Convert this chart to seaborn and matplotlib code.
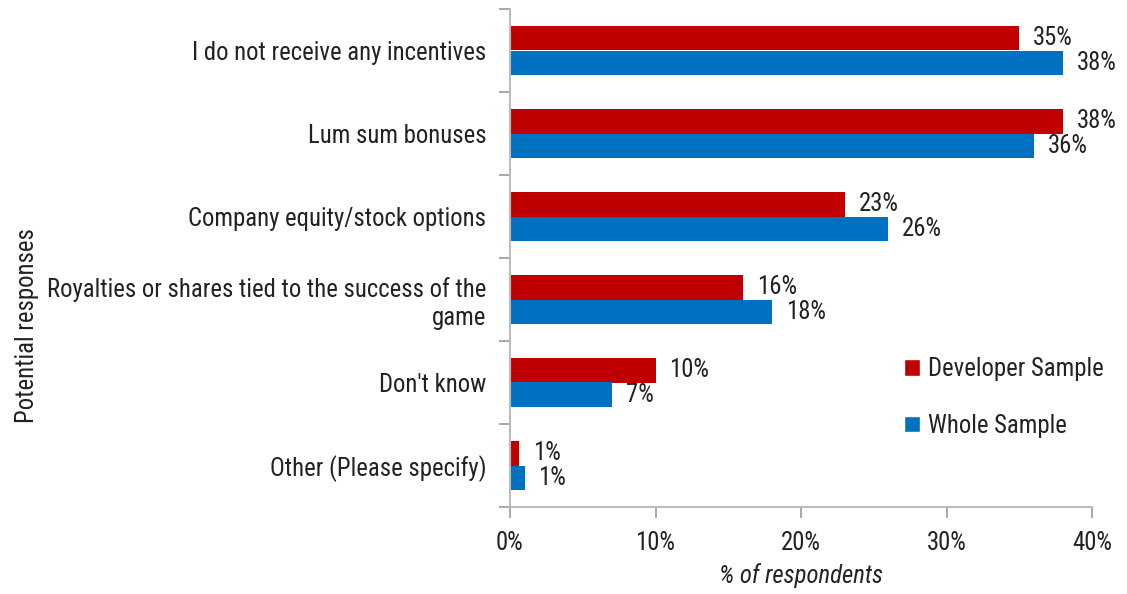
import matplotlib
matplotlib.use("Agg")
import matplotlib.pyplot as plt
import matplotlib.font_manager as fm
import seaborn as sns
import pandas as pd
import numpy as np
from matplotlib.ticker import FixedLocator, PercentFormatter
from matplotlib.patches import Patch

categories = [
    "I do not receive any incentives",
    "Lum sum bonuses",
    "Company equity/stock options",
    "Royalties or shares tied to the success of the\ngame",
    "Don't know",
    "Other (Please specify)",
]
developer = [35, 38, 23, 16, 10, 0.6]
whole = [38, 36, 26, 18, 7, 1.0]
developer_labels = ["35%", "38%", "23%", "16%", "10%", "1%"]
whole_labels = ["38%", "36%", "26%", "18%", "7%", "1%"]
series = ["Developer Sample", "Whole Sample"]
colors = ["#C00000", "#0070C0"]

sns.set_style("white")

# prefer a narrow font if one is installed
names = {f.name for f in fm.fontManager.ttflist}
narrow = [n for n in ["Liberation Sans Narrow", "Arial Narrow", "Roboto Condensed",
                      "Open Sans Condensed", "DejaVu Sans Condensed"] if n in names]
if narrow:
    family = [narrow[0], "DejaVu Sans"]
    fs = 17.8
else:
    family = ["Liberation Sans", "DejaVu Sans"]
    fs = 15.5
plt.rcParams["font.family"] = family

df = pd.DataFrame({
    "category": categories * 2,
    "value": developer + whole,
    "series": [series[0]] * len(categories) + [series[1]] * len(categories),
})

fig = plt.figure(figsize=(11.27, 5.94), dpi=100)
ax = fig.add_axes([510 / 1127, 1 - 507 / 594, 582 / 1127, 498 / 594])

sns.barplot(data=df, x="value", y="category", hue="series", orient="h",
            palette=colors, width=0.58, ax=ax, legend=False, saturation=1,
            linewidth=0)

ax.set_xlim(0, 40)
ax.set_ylim(len(categories) - 0.5, -0.5)
ax.xaxis.set_major_locator(FixedLocator([0, 10, 20, 30, 40]))
ax.xaxis.set_major_formatter(PercentFormatter(decimals=0))

for cont, labs in zip(ax.containers, [developer_labels, whole_labels]):
    ax.bar_label(cont, labels=labs, padding=10, fontsize=fs, color="#222222")

for s in ["top", "right"]:
    ax.spines[s].set_visible(False)
for s in ["left", "bottom"]:
    ax.spines[s].set_color("#BBBBBB")
    ax.spines[s].set_linewidth(1.5)

ax.tick_params(axis="x", direction="out", length=8, width=1.2, color="#999999",
               labelsize=fs, labelcolor="#222222", pad=9, bottom=True)
ax.tick_params(axis="y", which="major", length=0, labelsize=fs, labelcolor="#222222", pad=17)
ax.yaxis.set_minor_locator(FixedLocator(np.arange(-0.5, len(categories), 1.0)))
ax.tick_params(axis="y", which="minor", direction="out", length=8, width=1.2,
               color="#999999", left=True)

ax.set_ylabel("Potential responses", fontsize=fs, color="#222222")
ax.yaxis.set_label_coords(-0.81, 0.365)
ax.set_xlabel("% of respondents", fontsize=fs, style="italic", color="#222222", labelpad=6)

handles = [Patch(facecolor=c, label=l) for c, l in zip(colors, series)]
ax.legend(handles=handles, loc="center left", bbox_to_anchor=(0.638, 0.22), frameon=False,
          fontsize=fs, handlelength=0.65, handleheight=0.65, handletextpad=0.35,
          labelspacing=1.3, labelcolor="#222222")

fig.savefig("out.png", dpi=100)
